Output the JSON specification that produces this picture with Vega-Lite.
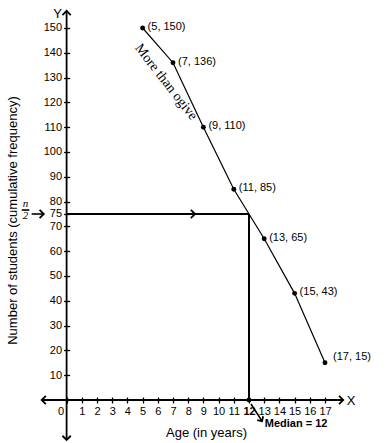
{
  "$schema": "https://vega.github.io/schema/vega-lite/v6.json",
  "width": 387,
  "height": 443,
  "autosize": {"type": "none"},
  "padding": 0,
  "background": "white",
  "config": {"view": {"stroke": null}, "font": "Liberation Sans"},
  "datasets": {
    "ogive": [
      {"x": 5, "y": 150, "label": "(5, 150)"},
      {"x": 7, "y": 136, "label": "(7, 136)"},
      {"x": 9, "y": 110, "label": "(9, 110)"},
      {"x": 11, "y": 85, "label": "(11, 85)"},
      {"x": 13, "y": 65, "label": "(13, 65)"},
      {"x": 15, "y": 43, "label": "(15, 43)"},
      {"x": 17, "y": 15, "label": "(17, 15)"}
    ],
    "axislines": [
      {"x": -1.64, "y": 0, "x2": 18.2, "y2": 0},
      {"x": 0, "y": -16.1, "x2": 0, "y2": 156.9}
    ],
    "guides": [
      {"x": 0, "y": 75, "x2": 12, "y2": 75},
      {"x": 12, "y": 75, "x2": 12, "y2": 0}
    ],
    "pointers": [
      {"x": -2.3, "y": 75, "x2": -1.5, "y2": 75},
      {"x": 12.13, "y": -1.6, "x2": 12.86, "y2": -8.5},
      {"x": -2.95, "y": 76.6, "x2": -2.45, "y2": 76.6}
    ],
    "heads": [
      {"x": 18.2, "y": 0, "dir": "right"},
      {"x": 8.45, "y": 75, "dir": "right"},
      {"x": -1.5, "y": 75, "dir": "right"},
      {"x": -1.64, "y": 0, "dir": "left"},
      {"x": 0, "y": 156.9, "dir": "up"},
      {"x": 0, "y": -16.1, "dir": "down"},
      {"x": 12.86, "y": -8.5, "dir": "diag"}
    ]
  },
  "encoding": {
    "x": {
      "field": "x", "type": "quantitative",
      "scale": {"domain": [-4.382, 21.079], "nice": false, "zero": false},
      "axis": {
        "orient": "bottom", "offset": -46, "domain": false, "grid": false,
        "values": [0,1,2,3,4,5,6,7,8,9,10,11,12,13,14,15,16,17],
        "tickSize": 6, "tickColor": "black", "tickWidth": 1.3,
        "labelFont": "Liberation Sans", "labelFontSize": 11, "labelColor": "black",
        "labelPadding": 2, "labelAngle": 0, "labelOverlap": false, "labelFlush": false, "labelBound": false,
        "labelAlign": {"condition": {"test": "datum.value === 0", "value": "right"}, "value": "center"},
        "labelOffset": {"condition": {"test": "datum.value === 0", "value": -3}, "value": 0},
        "labelFontWeight": {"condition": {"test": "datum.value === 12", "value": "bold"}, "value": "normal"},
        "title": "Age (in years)", "titleFont": "Liberation Sans", "titleFontSize": 13,
        "titleFontWeight": "normal", "titleColor": "black",
        "titleX": 206, "titleY": 35, "titleAlign": "center", "titleBaseline": "middle"
      }
    },
    "y": {
      "field": "y", "type": "quantitative",
      "scale": {"domain": [-17.339, 161.29], "nice": false, "zero": false},
      "axis": {
        "orient": "left", "offset": -69.6, "domain": false, "grid": false,
        "values": [10,20,30,40,50,60,70,75,80,90,100,110,120,130,140,150],
        "tickSize": 6, "tickColor": "black", "tickWidth": 1.3,
        "labelFont": "Liberation Sans", "labelFontSize": 11, "labelColor": "black",
        "labelPadding": 2, "labelOverlap": false, "labelFlush": false, "labelBound": false,
        "labelBaseline": "middle",
        "title": "Number of students (cumulative frequency)", "titleFont": "Liberation Sans",
        "titleFontSize": 13, "titleFontWeight": "normal", "titleColor": "black",
        "titleX": -57.6, "titleY": 220, "titleAngle": -90, "titleAlign": "center", "titleBaseline": "middle"
      }
    }
  },
  "layer": [
    {
      "data": {"name": "axislines"},
      "mark": {"type": "rule", "color": "black", "strokeWidth": 1.8},
      "encoding": {"x2": {"field": "x2"}, "y2": {"field": "y2"}}
    },
    {
      "data": {"name": "guides"},
      "mark": {"type": "rule", "color": "black", "strokeWidth": 2},
      "encoding": {"x2": {"field": "x2"}, "y2": {"field": "y2"}}
    },
    {
      "data": {"name": "pointers"},
      "mark": {"type": "rule", "color": "black", "strokeWidth": 1.6},
      "encoding": {"x2": {"field": "x2"}, "y2": {"field": "y2"}}
    },
    {
      "data": {"name": "ogive"},
      "mark": {"type": "line", "color": "black", "strokeWidth": 1.2},
      "encoding": {}
    },
    {
      "data": {"name": "ogive"},
      "mark": {"type": "point", "filled": true, "color": "black", "size": 24, "opacity": 1},
      "encoding": {}
    },
    {
      "data": {"values": [{"x": 12, "y": 0}]},
      "mark": {"type": "point", "filled": true, "color": "black", "size": 24, "opacity": 1},
      "encoding": {}
    },
    {
      "data": {"name": "heads"},
      "transform": [{"filter": "datum.dir === 'right'"}],
      "mark": {"type": "point", "shape": "M-1,-1L0,0L-1,1", "filled": false, "stroke": "black", "strokeWidth": 1.8, "size": 70, "angle": 0, "opacity": 1},
      "encoding": {}
    },
    {
      "data": {"name": "heads"},
      "transform": [{"filter": "datum.dir === 'left'"}],
      "mark": {"type": "point", "shape": "M-1,-1L0,0L-1,1", "filled": false, "stroke": "black", "strokeWidth": 1.8, "size": 70, "angle": 180, "opacity": 1},
      "encoding": {}
    },
    {
      "data": {"name": "heads"},
      "transform": [{"filter": "datum.dir === 'up'"}],
      "mark": {"type": "point", "shape": "M-1,-1L0,0L-1,1", "filled": false, "stroke": "black", "strokeWidth": 1.8, "size": 70, "angle": 270, "opacity": 1},
      "encoding": {}
    },
    {
      "data": {"name": "heads"},
      "transform": [{"filter": "datum.dir === 'down'"}],
      "mark": {"type": "point", "shape": "M-1,-1L0,0L-1,1", "filled": false, "stroke": "black", "strokeWidth": 1.8, "size": 70, "angle": 90, "opacity": 1},
      "encoding": {}
    },
    {
      "data": {"name": "heads"},
      "transform": [{"filter": "datum.dir === 'diag'"}],
      "mark": {"type": "point", "shape": "M-1,-1L0,0L-1,1", "filled": false, "stroke": "black", "strokeWidth": 1.8, "size": 50, "angle": 57, "opacity": 1},
      "encoding": {}
    },
    {
      "data": {"name": "ogive"},
      "transform": [{"filter": "datum.x !== 17"}],
      "mark": {"type": "text", "align": "left", "baseline": "middle", "dx": 5, "dy": -1, "font": "Liberation Sans", "fontSize": 11, "color": "black"},
      "encoding": {"text": {"field": "label"}}
    },
    {
      "data": {"name": "ogive"},
      "transform": [{"filter": "datum.x === 17"}],
      "mark": {"type": "text", "align": "left", "baseline": "middle", "dx": 8, "dy": -6, "font": "Liberation Sans", "fontSize": 11, "color": "black"},
      "encoding": {"text": {"field": "label"}}
    },
    {
      "data": {"values": [{"x": -0.6, "y": 155.6, "t": "Y"}, {"x": 18.71, "y": -0.4, "t": "X"}]},
      "mark": {"type": "text", "align": "center", "baseline": "middle", "font": "Liberation Sans", "fontSize": 13, "color": "black"},
      "encoding": {"text": {"field": "t"}}
    },
    {
      "data": {"values": [{"x": 15.1, "y": -9.7, "t": "Median = 12"}]},
      "mark": {"type": "text", "align": "center", "baseline": "middle", "font": "Liberation Sans", "fontSize": 11, "fontWeight": "bold", "color": "black"},
      "encoding": {"text": {"field": "t"}}
    },
    {
      "data": {"values": [{"x": 6.54, "y": 128.2, "t": "More than ogive"}]},
      "mark": {"type": "text", "align": "center", "baseline": "middle", "font": "Liberation Serif", "fontSize": 14, "angle": 52, "color": "black"},
      "encoding": {"text": {"field": "t"}}
    },
    {
      "data": {"values": [{"x": -2.7, "y": 79.0, "t": "n"}, {"x": -2.7, "y": 74.0, "t": "2"}]},
      "mark": {"type": "text", "align": "center", "baseline": "middle", "font": "Liberation Serif", "fontSize": 11, "fontStyle": "italic", "color": "black"},
      "encoding": {"text": {"field": "t"}}
    }
  ]
}
